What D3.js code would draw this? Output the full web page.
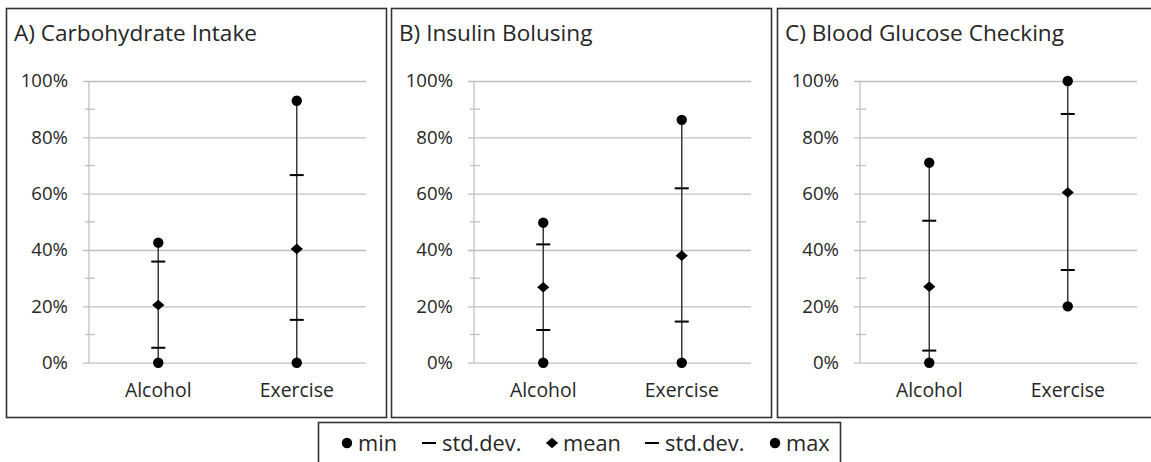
<!DOCTYPE html>
<html>
<head>
<meta charset="utf-8">
<script src="https://cdn.jsdelivr.net/npm/d3@7"></script>
<style>
  body { margin: 0; background: #fff; }
  svg { display: block; font-family: "Open Sans", sans-serif; }
</style>
</head>
<body>
<svg id="chart" width="1151" height="462"></svg>
<script>
// Categories and panel titles
const categories = ["Alcohol", "Exercise"];
const panelTitles = ["A) Carbohydrate Intake", "B) Insulin Bolusing", "C) Blood Glucose Checking"];

// Values (fraction), one array per panel, order = categories
const minVals    = [[0.00, 0.00], [0.00, 0.00], [0.00, 0.20]];
const sdLowVals  = [[0.053, 0.152], [0.116, 0.146], [0.043, 0.329]];
const meanVals   = [[0.205, 0.404], [0.268, 0.380], [0.270, 0.604]];
const sdHighVals = [[0.359, 0.666], [0.420, 0.619], [0.504, 0.883]];
const maxVals    = [[0.426, 0.930], [0.497, 0.862], [0.710, 1.00]];

const yTicks = [0, 0.2, 0.4, 0.6, 0.8, 1.0];
const yMinorTicks = [0.1, 0.3, 0.5, 0.7, 0.9];

const legendItems = [
    {label: "min", sym: "circle"},
    {label: "std.dev.", sym: "dash"},
    {label: "mean", sym: "diamond"},
    {label: "std.dev.", sym: "dash"},
    {label: "max", sym: "circle"}
];

const panelOffsets = [0, 385, 771];
const textColor = "#262626";
const gridColor = "#c0c0c0";
const lineColor = "#3a3a3a";

var svg = d3.select("#chart");

var y = d3.scaleLinear().domain([0, 1]).range([362.7, 81]);
var x = d3.scaleBand().domain(categories).range([89, 366]);

function drawSymbol(g, sym, cx, cy) {
    if (sym === "circle") {
        g.append("circle").attr("cx", cx).attr("cy", cy).attr("r", 5.2).attr("fill", "#000");
    } else if (sym === "diamond") {
        g.append("path")
            .attr("d", d3.symbol().type(d3.symbolDiamond2).size(72)())
            .attr("transform", "translate(" + cx + "," + cy + ") scale(1.15,1)")
            .attr("fill", "#000");
    } else {
        g.append("line")
            .attr("x1", cx - 7).attr("x2", cx + 7)
            .attr("y1", cy).attr("y2", cy)
            .attr("stroke", "#000").attr("stroke-width", 2);
    }
}

panelTitles.forEach(function(title, p) {
    var g = svg.append("g").attr("transform", "translate(" + panelOffsets[p] + ",0)");

    // panel frame
    g.append("rect")
        .attr("x", 6.5).attr("y", 8.5)
        .attr("width", 380).attr("height", 409)
        .attr("fill", "none")
        .attr("stroke", "#333").attr("stroke-width", 1.6);

    g.append("text")
        .attr("x", 14).attr("y", 40.5)
        .attr("fill", textColor)
        .style("font-size", "22.6px")
        .text(title);

    // gridlines + y labels
    var yAxis = g.append("g")
        .attr("transform", "translate(83,0)")
        .call(d3.axisLeft(y)
            .tickValues(yTicks)
            .tickSize(-283)
            .tickPadding(15)
            .tickFormat(d3.format(".0%")));
    yAxis.select(".domain").remove();
    yAxis.selectAll(".tick line").attr("stroke", gridColor).attr("stroke-width", 1.3);
    yAxis.selectAll(".tick text")
        .attr("fill", textColor)
        .style("font-size", "18.6px")
        .style("font-family", "'Open Sans', sans-serif");

    // vertical axis line
    g.append("line")
        .attr("x1", 89).attr("x2", 89)
        .attr("y1", y(0)).attr("y2", y(1))
        .attr("stroke", gridColor).attr("stroke-width", 1.3);

    // minor ticks crossing the axis
    g.selectAll(".minor")
        .data(yMinorTicks)
        .enter()
        .append("line")
            .attr("x1", 85).attr("x2", 95)
            .attr("y1", function(d) { return y(d); })
            .attr("y2", function(d) { return y(d); })
            .attr("stroke", gridColor).attr("stroke-width", 1.3);

    // category labels
    var xAxis = g.append("g")
        .attr("transform", "translate(0," + y(0) + ")")
        .call(d3.axisBottom(x).tickSize(0).tickPadding(21));
    xAxis.select(".domain").remove();
    xAxis.selectAll(".tick text")
        .attr("fill", textColor)
        .style("font-size", "19.4px")
        .style("font-family", "'Open Sans', sans-serif");

    // high-low lines and markers
    categories.forEach(function(c, i) {
        var cx = x(c) + x.bandwidth() / 2;
        g.append("line")
            .attr("x1", cx).attr("x2", cx)
            .attr("y1", y(minVals[p][i])).attr("y2", y(maxVals[p][i]))
            .attr("stroke", lineColor).attr("stroke-width", 1.5);

        drawSymbol(g, "dash", cx, y(sdLowVals[p][i]));
        drawSymbol(g, "dash", cx, y(sdHighVals[p][i]));
        drawSymbol(g, "circle", cx, y(minVals[p][i]));
        drawSymbol(g, "circle", cx, y(maxVals[p][i]));
        drawSymbol(g, "diamond", cx, y(meanVals[p][i]));
    });
});

// legend
var leg = svg.append("g");
leg.append("rect")
    .attr("x", 318.5).attr("y", 422.5)
    .attr("width", 522).attr("height", 60)
    .attr("fill", "#fff")
    .attr("stroke", "#333").attr("stroke-width", 1.6);

var legX = [347, 429, 552, 652, 775];
legendItems.forEach(function(it, i) {
    drawSymbol(leg, it.sym, legX[i], 443);
    leg.append("text")
        .attr("x", legX[i] + (it.sym === "dash" ? 13 : 11))
        .attr("y", 443)
        .attr("dy", "0.35em")
        .attr("fill", textColor)
        .style("font-size", "21.8px")
        .text(it.label);
});
</script>
</body>
</html>
